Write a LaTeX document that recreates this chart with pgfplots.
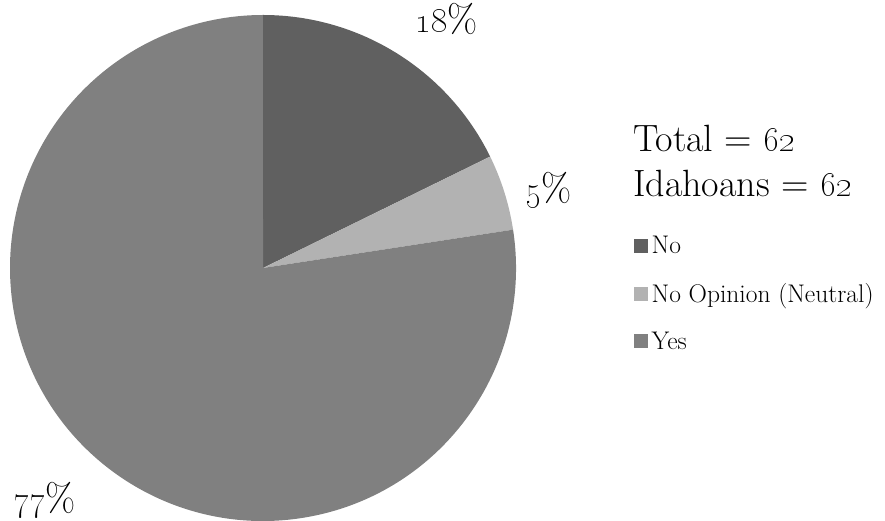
\documentclass[border=0pt]{standalone}
\usepackage{pgfplots}
\usepackage{pgfplotstable}
\pgfplotsset{compat=1.18}
\definecolor{cNo}{RGB}{96,96,96}
\definecolor{cNeu}{RGB}{178,178,178}
\definecolor{cYes}{RGB}{128,128,128}
\pgfplotstableread{
label count
No 11
Neutral 3
Yes 48
}\piedata
\begin{document}
\begin{tikzpicture}
\pgfplotstablegetelem{0}{count}\of\piedata \edef\vNo{\pgfplotsretval}
\pgfplotstablegetelem{1}{count}\of\piedata \edef\vNeu{\pgfplotsretval}
\pgfplotstablegetelem{2}{count}\of\piedata \edef\vYes{\pgfplotsretval}
\pgfmathsetmacro{\vTot}{\vNo+\vNeu+\vYes}
\pgfmathsetmacro{\aA}{90}
\pgfmathsetmacro{\aB}{90-360*(\vNo/\vTot)}
\pgfmathsetmacro{\aC}{\aB-360*(\vNeu/\vTot)}
\pgfmathsetmacro{\aD}{\aC-360*(\vYes/\vTot)}
\begin{axis}[name=ax, scale only axis, width=885pt, height=521pt,
  xmin=0, xmax=885, ymin=0, ymax=521, hide axis, clip=false,
  legend cell align=left,
  legend style={at={(axis cs:634,289)}, anchor=north west, draw=none, fill=none,
    inner sep=0pt, font=\fontsize{25.5}{30}\selectfont, row sep=20pt,
    nodes={inner sep=4pt}}]
\fill[cNo] (axis cs:263,253) -- ++(\aA:253pt) arc[start angle=\aA, end angle=\aB, radius=253pt] -- cycle;
\fill[cNeu] (axis cs:263,253) -- ++(\aB:253pt) arc[start angle=\aB, end angle=\aC, radius=253pt] -- cycle;
\fill[cYes] (axis cs:263,253) -- ++(\aC:253pt) arc[start angle=\aC, end angle=\aD, radius=253pt] -- cycle;
\addlegendimage{legend image code/.code={\fill[cNo] (0pt,-6.5pt) rectangle (13pt,6.5pt);}}
\addlegendentry{No}
\addlegendimage{legend image code/.code={\fill[cNeu] (0pt,-6.5pt) rectangle (13pt,6.5pt);}}
\addlegendentry{No Opinion (Neutral)}
\addlegendimage{legend image code/.code={\fill[cYes] (0pt,-6.5pt) rectangle (13pt,6.5pt);}}
\addlegendentry{Yes}
\node[anchor=base west, inner sep=0pt, font=\fontsize{38}{45}\selectfont] at (axis cs:633,369) {Total = \oldstylenums{62}};
\node[anchor=base west, inner sep=0pt, font=\fontsize{38}{45}\selectfont] at (axis cs:633,324) {Idahoans = \oldstylenums{62}};
\node[anchor=base west, inner sep=0pt, font=\fontsize{39}{46}\selectfont] at (axis cs:415,488) {\oldstylenums{18}\%};
\node[anchor=base west, inner sep=0pt, font=\fontsize{39}{46}\selectfont] at (axis cs:525,319) {\oldstylenums{5}\%};
\node[anchor=base west, inner sep=0pt, font=\fontsize{39}{46}\selectfont] at (axis cs:13,9) {\oldstylenums{77}\%};
\end{axis}
\pgfresetboundingbox
\path[use as bounding box] (ax.south west) rectangle (ax.north east);
\end{tikzpicture}
\end{document}
